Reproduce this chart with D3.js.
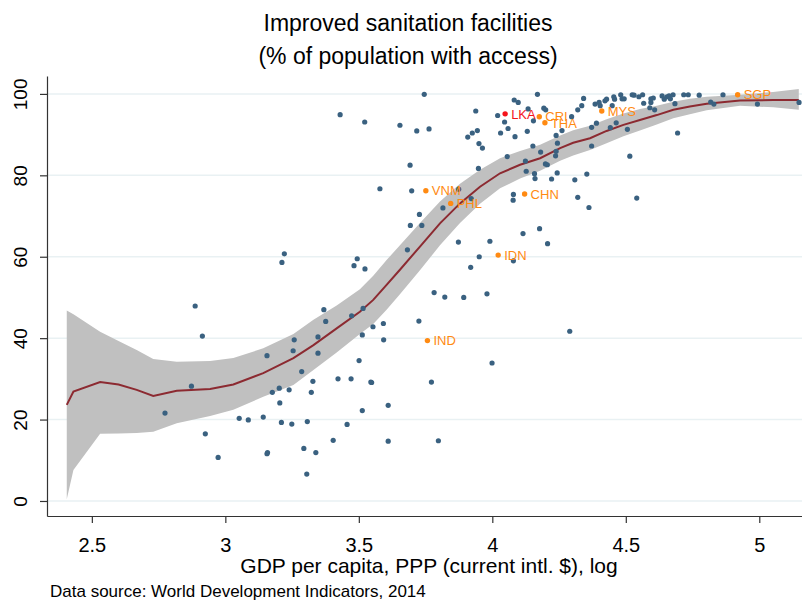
<!DOCTYPE html>
<html>
<head>
<meta charset="utf-8">
<script src="https://cdn.jsdelivr.net/npm/d3@7"></script>
<style>
  body { margin: 0; background: #fff; }
  svg { display: block; }
  text { font-family: "Liberation Sans", Arial, Helvetica, sans-serif; }
</style>
</head>
<body>
<svg id="chart" width="802" height="605"></svg>
<script>
// Countries: log10 GDP per capita (PPP) and % of population with improved sanitation
const gdpLog = [
  2.887, 2.914, 2.873, 2.774, 2.925, 2.973, 3.156, 3.258, 3.254, 3.286,
  3.176, 3.202, 3.239, 3.204, 3.052, 3.086, 3.142, 3.210, 3.249, 3.307,
  3.156, 3.158, 3.294, 3.305, 3.328, 3.322, 3.339, 3.347, 3.347, 3.369,
  3.376, 3.404, 3.422, 3.456, 3.471, 3.473, 3.501, 3.516, 3.513, 3.553,
  3.592, 3.593, 3.725, 3.545, 3.548, 3.772, 3.999, 3.610, 3.513, 3.610,
  3.798, 3.782, 3.822, 3.893, 3.980, 4.290, 3.221, 3.212,
  3.745, 3.430, 3.522, 3.654, 3.717, 3.763, 3.938, 3.908, 3.925, 3.944,
  3.950, 3.963, 3.948, 3.692, 3.579, 3.698, 3.874, 3.921, 3.815, 3.727,
  3.693, 3.736, 3.873, 3.991, 3.682, 3.951, 4.079, 3.919, 3.494, 3.482,
  3.523, 4.082, 4.097, 4.169, 4.134, 4.193, 4.200, 4.020, 4.046, 4.059,
  4.031, 4.085, 4.131, 4.154, 4.152, 4.181, 4.056, 4.124, 4.127, 4.158,
  4.160, 4.079, 4.078, 4.115, 4.177, 4.207, 4.261, 4.297, 4.320, 4.335,
  4.342, 4.239, 4.244, 4.239, 4.237, 4.199, 4.206, 4.243, 4.222, 4.309,
  4.354, 4.320, 4.362, 4.541, 4.372, 4.372, 4.390, 4.385, 4.400, 4.404,
  4.422, 4.428, 4.455, 4.458, 4.481, 4.486, 4.494, 4.524, 4.531, 4.549,
  4.563, 4.567, 4.594, 4.603, 4.594, 4.636, 4.644, 4.654, 4.662, 4.667,
  4.677, 4.684, 4.717, 4.734, 4.775, 4.818, 4.830, 4.864, 4.993, 5.149,
  4.449, 4.590, 4.608, 4.442, 4.464, 4.506, 4.694, 4.515
];
const sanitation = [
  47.9, 40.5, 28.2, 21.6, 16.5, 10.7, 35.7, 39.6, 36.9, 31.8,
  26.7, 27.7, 27.3, 24.1, 20.3, 19.9, 20.6, 19.3, 18.9, 19.5,
  11.6, 11.9, 12.9, 6.6, 29.4, 26.7, 11.9, 40.3, 36.3, 47.0,
  44.1, 14.9, 30.0, 18.8, 30.0, 45.5, 34.5, 47.3, 40.8, 42.8,
  43.6, 39.6, 44.2, 29.2, 29.1, 29.2, 33.9, 23.5, 22.2, 14.7,
  14.8, 51.2, 50.1, 50.0, 50.9, 41.7, 60.7, 58.6,
  99.9, 94.9, 93.1, 92.3, 90.9, 91.4, 95.8, 89.4, 90.4, 91.0,
  87.8, 86.7, 81.7, 82.5, 76.7, 76.2, 76.6, 74.3, 72.0, 70.4,
  67.7, 67.7, 63.6, 63.8, 61.7, 60.0, 59.0, 57.4, 59.5, 57.8,
  57.0, 98.5, 97.9, 99.9, 96.3, 96.5, 96.1, 94.7, 93.1, 91.5,
  90.4, 89.5, 90.8, 93.4, 87.2, 85.7, 84.6, 83.5, 81.0, 80.4,
  79.2, 75.3, 73.9, 65.7, 66.9, 63.2, 91.0, 94.4, 96.1, 97.1,
  98.9, 89.8, 87.9, 85.9, 84.8, 82.8, 82.6, 80.6, 79.1, 78.9,
  80.3, 74.6, 72.1, 74.4, 87.2, 91.8, 92.8, 97.5, 97.9, 97.1,
  98.3, 98.7, 99.3, 98.7, 99.8, 98.8, 98.8, 99.8, 99.7, 99.3,
  99.8, 97.7, 98.8, 99.0, 97.9, 99.5, 98.7, 99.3, 99.5, 98.8,
  99.8, 97.6, 99.8, 99.8, 99.7, 98.0, 97.5, 99.8, 97.5, 97.9,
  97.1, 96.6, 96.1, 91.7, 92.9, 91.3, 90.4, 84.7
];

// Highlighted countries
const hlCodes = ["LKA", "CRI", "THA", "MYS", "SGP", "VNM", "PHL", "CHN", "IDN", "IND"];
const hlGdp   = [4.048, 4.176, 4.197, 4.410, 4.919, 3.751, 3.844, 4.121, 4.022, 3.757];
const hlSan   = [95.1, 94.4, 92.9, 95.8, 99.8, 76.2, 73.1, 75.4, 60.4, 39.4];
const hlColor = ["#f5141c", "#ff8a12", "#ff8a12", "#ff8a12", "#ff8a12",
                 "#ff8a12", "#ff8a12", "#ff8a12", "#ff8a12", "#ff8a12"];

// Local polynomial fit with 95% confidence band
const fitX  = [2.406, 2.431, 2.531, 2.600, 2.668, 2.730, 2.818, 2.943, 3.030, 3.142,
               3.255, 3.330, 3.417, 3.504, 3.554, 3.604, 3.654, 3.729, 3.804, 3.879,
               3.954, 4.029, 4.104, 4.179, 4.254, 4.303, 4.366, 4.428, 4.491, 4.553,
               4.616, 4.678, 4.740, 4.803, 4.928, 5.052, 5.148];
const fitY  = [23.6, 26.9, 29.2, 28.6, 27.3, 25.8, 27.1, 27.5, 28.6, 31.4,
               35.1, 38.3, 42.4, 46.5, 49.4, 53.1, 56.8, 62.5, 68.2, 73.1,
               77.2, 80.5, 82.6, 84.2, 86.7, 88.0, 89.1, 90.9, 92.4, 93.6,
               94.8, 96.1, 96.9, 97.6, 98.4, 98.5, 98.5];
const fitLo = [0.4, 7.6, 16.5, 16.6, 16.7, 17.0, 19.1, 20.9, 22.4, 25.6,
               28.5, 32.2, 36.5, 41.0, 43.5, 47.0, 50.8, 56.7, 62.8, 68.3,
               73.0, 76.8, 79.2, 81.1, 83.6, 84.9, 86.2, 87.9, 89.6, 91.0,
               92.5, 94.0, 95.0, 96.0, 97.1, 96.7, 96.1];
const fitHi = [46.8, 45.9, 41.6, 39.3, 37.1, 34.9, 34.2, 34.4, 35.1, 37.5,
               41.0, 44.5, 48.0, 52.0, 55.3, 59.2, 62.8, 68.3, 73.6, 77.9,
               81.4, 84.2, 86.0, 87.5, 89.8, 91.1, 92.2, 93.8, 95.2, 96.3,
               97.1, 98.1, 98.8, 99.3, 99.8, 100.5, 101.2];

const xTicks = [2.5, 3, 3.5, 4, 4.5, 5];
const yTicks = [0, 20, 40, 60, 80, 100];

const titleLines = ["Improved sanitation facilities", "(% of population with access)"];
const xTitle = "GDP per capita, PPP (current intl. $), log";
const note = "Data source: World Development Indicators, 2014";

const svg = d3.select("#chart");
const plot = { left: 47, right: 802, top: 76, bottom: 516 };

const x = d3.scaleLinear().domain([2.332, 5.16]).range([plot.left, plot.right]);
const y = d3.scaleLinear().domain([-3.69, 104.4]).range([plot.bottom, plot.top]);

// gridlines
svg.append("g").selectAll("line").data(yTicks).join("line")
  .attr("x1", plot.left).attr("x2", plot.right)
  .attr("y1", d => y(d)).attr("y2", d => y(d))
  .attr("stroke", "#e9f1f3").attr("stroke-width", 1.5);

const fit = fitX.map((v, i) => ({ x: v, y: fitY[i], lo: fitLo[i], hi: fitHi[i] }));

// confidence band
svg.append("path").datum(fit)
  .attr("d", d3.area().x(d => x(d.x)).y0(d => y(d.lo)).y1(d => y(d.hi)))
  .attr("fill", "#c0c0c0");

// fitted line
svg.append("path").datum(fit)
  .attr("d", d3.line().x(d => x(d.x)).y(d => y(d.y)))
  .attr("fill", "none").attr("stroke", "#8c2a31").attr("stroke-width", 2);

// scatter points
svg.append("g").selectAll("circle").data(gdpLog.map((v, i) => [v, sanitation[i]])).join("circle")
  .attr("cx", d => x(d[0])).attr("cy", d => y(d[1])).attr("r", 2.6)
  .attr("fill", "#3a6180");

// highlighted countries
const hl = hlCodes.map((c, i) => ({ code: c, gx: hlGdp[i], sy: hlSan[i], col: hlColor[i] }));
const hg = svg.append("g").selectAll("g").data(hl).join("g")
  .attr("transform", d => `translate(${x(d.gx)},${y(d.sy)})`);
hg.append("circle").attr("r", 2.7).attr("fill", d => d.col);
hg.append("text").attr("x", 6).attr("dy", "0.36em")
  .attr("font-size", 13).attr("fill", d => d.col).text(d => d.code);

// x axis
const xAxis = svg.append("g").attr("transform", `translate(0,${plot.bottom})`)
  .call(d3.axisBottom(x).tickValues(xTicks).tickSize(7).tickSizeOuter(0).tickFormat(d => String(d)));
xAxis.select(".domain").attr("stroke", "#333").attr("stroke-width", 1.2);
xAxis.selectAll(".tick line").attr("stroke", "#333").attr("stroke-width", 1.2);
xAxis.selectAll(".tick text").attr("y", 35.5).attr("dy", 0)
  .attr("font-size", 20).attr("fill", "#000")
  .style("font-family", '"Liberation Sans", Arial, sans-serif');

// y axis
const yAxis = svg.append("g").attr("transform", `translate(${plot.left},0)`)
  .call(d3.axisLeft(y).tickValues(yTicks).tickSize(7).tickSizeOuter(0).tickFormat(d => String(d)));
yAxis.select(".domain").attr("stroke", "#333").attr("stroke-width", 1.2);
yAxis.selectAll(".tick line").attr("stroke", "#333").attr("stroke-width", 1.2);
yAxis.selectAll(".tick text")
  .attr("transform", "rotate(-90)").attr("x", 0).attr("y", -20).attr("dy", 0)
  .attr("text-anchor", "middle").attr("font-size", 19).attr("fill", "#000")
  .style("font-family", '"Liberation Sans", Arial, sans-serif');

// titles
svg.append("g").selectAll("text").data(titleLines).join("text")
  .attr("x", 408).attr("y", (d, i) => 31 + i * 33)
  .attr("text-anchor", "middle").attr("font-size", 23).attr("fill", "#000")
  .text(d => d);

svg.append("text").attr("x", 429).attr("y", 573).attr("text-anchor", "middle")
  .attr("font-size", 21).attr("fill", "#000").text(xTitle);

svg.append("text").attr("x", 50).attr("y", 597)
  .attr("font-size", 17).attr("fill", "#000").text(note);
</script>
</body>
</html>
